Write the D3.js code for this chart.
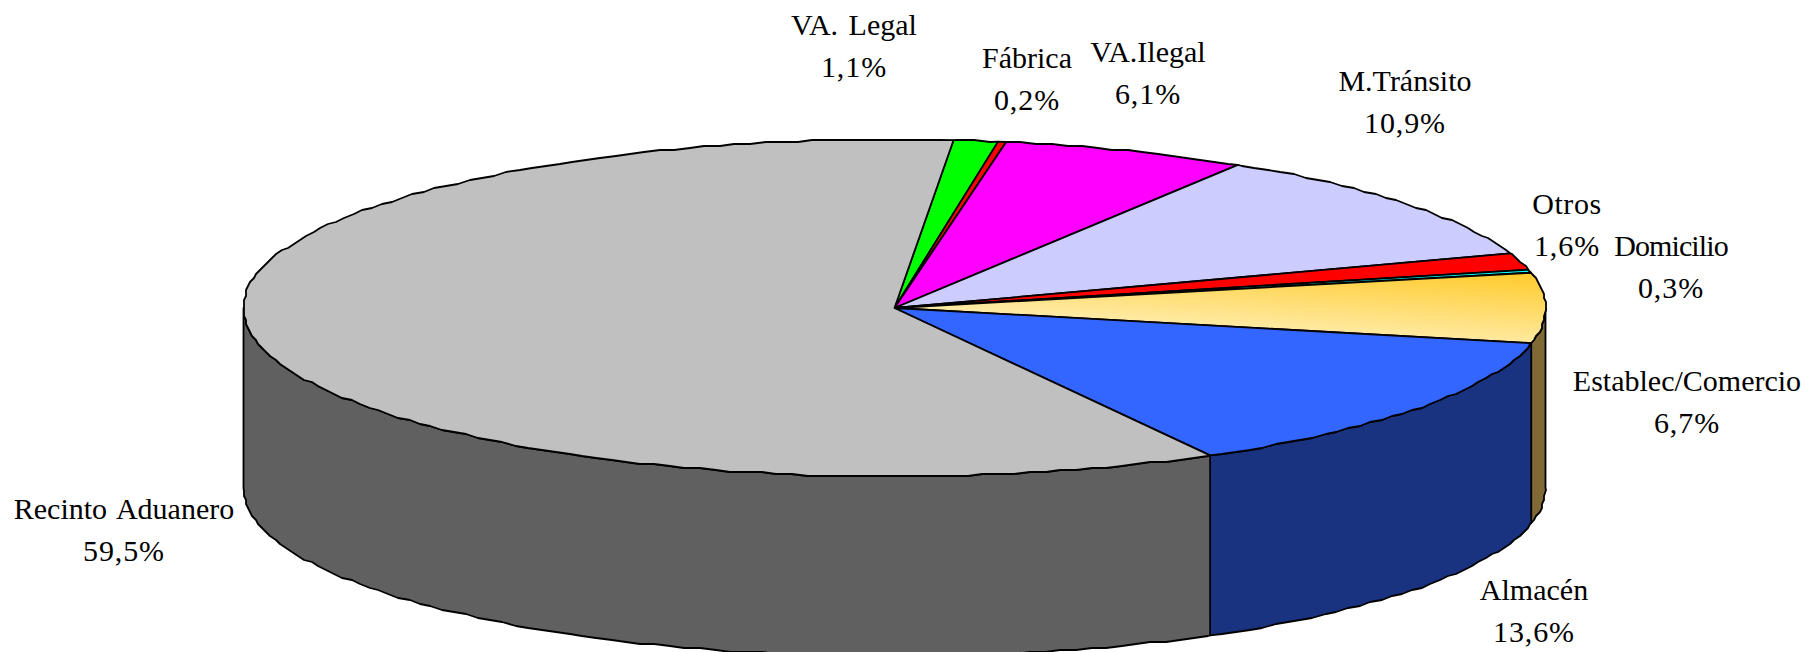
<!DOCTYPE html>
<html><head><meta charset="utf-8">
<script src="https://cdn.jsdelivr.net/npm/d3@7/dist/d3.min.js"></script>
<style>html,body{margin:0;padding:0;background:#fff;overflow:hidden}svg{display:block}
text{font-family:"Liberation Serif","Times New Roman",serif;fill:#000}</style>
</head><body><svg id="c" width="1805" height="652"></svg>
<script>
const categories = ["VA. Legal","Fábrica","VA.Ilegal","M.Tránsito","Otros","Domicilio","Establec/Comercio","Almacén","Recinto Aduanero"];
const values = [1.1,0.2,6.1,10.9,1.6,0.3,6.7,13.6,59.5];
const topColors = ["#00FF00","#FF0000","#FF00FF","#CCCCFF","#FF0000","#00FFFF","url(#gold)","#3366FF","#C0C0C0"];
const sideColors = ["#008000","#800000","#800080","#666680","#800000","#008080","#7F6A36","#1A3380","#606060"];
// label centre x, first-line baseline, name tracking
const labelX = [854,1027,1148,1405,1567,1671,1687,1534,124];
const labelY = [35,68,62,91,214,256,391,600,519];
const labelTrack = [0,0,0,0,0.6,-0.9,0,0,0];

const W=1805,H=652,depth=180,fontSize=30,lineGap=42,startDeg=5.2,grid=2,stepDeg=1.4;
const X=d3.scaleLinear().domain([-1,1]).range([243.5,1545.5]);
const Y=d3.scaleLinear().domain([-1,1]).range([139.5,476.5]);
const cx=X(0),cy=Y(0);
const svg=d3.select("#c");
const rad=d=>d*Math.PI/180;
const pie=d3.pie().sort(null).value(d=>d).startAngle(rad(startDeg)).endAngle(rad(startDeg+360));
const arcs=pie(values);
const snap=v=>Math.round(v/grid)*grid;
const pt=a=>[X(Math.sin(a)),Y(-Math.cos(a))];
function arcPts(a0,a1){
  const step=rad(stepDeg),pts=[];
  // vertices sit on a fixed angular lattice so neighbouring slices share them
  pts.push(pt(a0));
  for(let k=Math.ceil(a0/step+1e-6);k*step<a1-1e-6;k++){const p=pt(k*step);pts.push([snap(p[0]),snap(p[1])]);}
  pts.push(pt(a1));
  return pts;
}
const line=d3.line();
const defs=svg.append("defs");
const g=defs.append("linearGradient").attr("id","gold").attr("gradientUnits","userSpaceOnUse")
  .attr("x1",1500).attr("y1",268).attr("x2",1495).attr("y2",345);
g.append("stop").attr("offset",0).attr("stop-color","#FFC926");
g.append("stop").attr("offset",1).attr("stop-color","#FFEBA6");

// front wall
const lo=rad(90),hi=rad(270);
const norm=arcs.map(a=>({a0:a.startAngle,a1:a.endAngle,i:a.index}));
svg.append("g").selectAll("path").data(norm.filter(d=>d.a1>lo&&d.a0<hi)).join("path")
  .attr("d",d=>{
    const pts=arcPts(Math.max(d.a0,lo),Math.min(d.a1,hi));
    const low=pts.slice().reverse().map(p=>[p[0],p[1]+depth]);
    return line(pts.concat(low))+"Z";
  })
  .attr("fill",d=>sideColors[d.i]).attr("stroke","#000").attr("stroke-width",1.8).attr("stroke-linejoin","round");

// top face
svg.append("g").selectAll("path").data(norm).join("path")
  .attr("d",d=>line([[cx,cy]].concat(arcPts(d.a0,d.a1)))+"Z")
  .attr("fill",d=>topColors[d.i]).attr("stroke","#000").attr("stroke-width",1.8).attr("stroke-linejoin","round");

// labels
const pct=v=>d3.format(".1f")(v).replace(".",",")+"%";
const lab=svg.append("g").attr("font-size",fontSize).attr("text-anchor","middle");
categories.forEach((c,i)=>{
  lab.append("text").attr("x",labelX[i]).attr("y",labelY[i]).attr("word-spacing",3).attr("letter-spacing",labelTrack[i]).text(c);
  lab.append("text").attr("x",labelX[i]).attr("y",labelY[i]+lineGap).attr("letter-spacing",0.9).text(pct(values[i]));
});
</script></body></html>
